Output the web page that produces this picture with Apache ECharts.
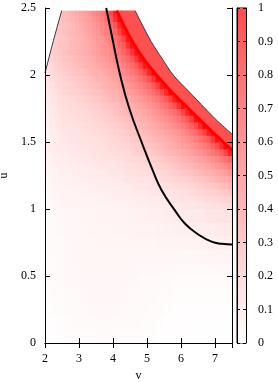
<!DOCTYPE html>
<html>
<head>
<meta charset="utf-8">
<script src="https://cdn.jsdelivr.net/npm/echarts@6/dist/echarts.min.js"></script>
<style>
  html, body { margin: 0; padding: 0; background: #fff; }
  #chart { width: 278px; height: 382px; }
</style>
</head>
<body>
<div id="chart"></div>
<script>
// ---------- data ----------
// tick labels
const X_TICKS = [2, 3, 4, 5, 6, 7];
const Y_TICKS = [0, 0.5, 1, 1.5, 2, 2.5];
const CB_TICKS = [0, 0.1, 0.2, 0.3, 0.4, 0.5, 0.6, 0.7, 0.8, 0.9, 1];

// fine cells (u >= 1): column centres (v) and row centres (u)
const V_FINE = [2.0625,2.1875,2.3125,2.4375,2.5625,2.6875,2.8125,2.9375,3.0625,3.1875,3.3125,3.4375,3.5625,3.6875,3.8125,3.9375,4.0625,4.1875,4.3125,4.4375,4.5625,4.6875,4.8125,4.9375,5.0625,5.1875,5.3125,5.4375,5.5625,5.6875,5.8125,5.9375,6.0625,6.1875,6.3125,6.4375,6.5625,6.6875,6.8125,6.9375,7.0625,7.1875,7.3125,7.4375];
const U_FINE = [1.025,1.075,1.125,1.175,1.225,1.275,1.325,1.375,1.425,1.475,1.525,1.575,1.625,1.675,1.725,1.775,1.825,1.875,1.925,1.975,2.025,2.075,2.125,2.175,2.225,2.275,2.325,2.375,2.425,2.475];
// values, bottom row first (rows end where the computed region ends)
const FINE_ROWS = [
[.03,.041,.047,.054,.055,.057,.058,.059,.06,.062,.063,.065,.066,.068,.069,.071,.073,.075,.077,.079,.082,.085,.088,.092,.096,.10,.10,.105,.11,.115,.12,.125,.13,.14,.145,.15,.155,.16,.165,.175,.18,.19,.20,.21],
[.036,.047,.053,.06,.061,.062,.063,.065,.066,.068,.07,.071,.073,.075,.077,.08,.082,.085,.088,.092,.096,.10,.10,.105,.11,.115,.12,.13,.135,.14,.145,.15,.155,.16,.165,.175,.18,.19,.20,.21,.22,.23,.245,.26],
[.04,.052,.058,.065,.066,.068,.069,.071,.073,.075,.077,.079,.082,.085,.088,.092,.096,.10,.10,.105,.11,.115,.12,.125,.13,.14,.145,.15,.155,.16,.165,.175,.18,.19,.20,.21,.22,.23,.245,.26,.28,.295,.315,.335],
[.045,.057,.063,.07,.072,.074,.076,.078,.08,.083,.086,.09,.095,.10,.10,.105,.11,.11,.115,.125,.13,.135,.14,.145,.15,.16,.16,.17,.175,.185,.19,.20,.21,.22,.235,.25,.265,.285,.30,.325,.345,.365,.385,.42],
[.05,.06,.07,.076,.078,.08,.083,.086,.09,.095,.10,.10,.105,.11,.11,.115,.125,.13,.135,.14,.145,.15,.16,.165,.17,.18,.185,.195,.205,.215,.225,.24,.255,.27,.29,.31,.33,.35,.37,.39,.42,.44,.46,.49],
[.055,.07,.075,.083,.086,.09,.095,.10,.10,.105,.11,.11,.115,.125,.13,.135,.14,.145,.15,.16,.165,.17,.18,.185,.195,.205,.215,.225,.235,.25,.27,.285,.305,.325,.345,.365,.39,.42,.435,.46,.48,.52,.55,.59],
[.065,.075,.085,.095,.095,.10,.105,.11,.11,.115,.12,.13,.135,.14,.145,.15,.155,.16,.17,.175,.185,.19,.20,.21,.22,.23,.25,.265,.28,.30,.32,.34,.36,.38,.405,.43,.455,.47,.505,.54,.575,.61,.65,.71],
[.07,.085,.095,.10,.105,.11,.115,.12,.125,.13,.135,.145,.15,.155,.16,.165,.17,.18,.19,.20,.205,.22,.225,.24,.255,.275,.29,.31,.33,.35,.37,.395,.42,.445,.465,.495,.525,.56,.595,.635,.68,.74,.795,.875],
[.08,.095,.105,.11,.115,.12,.13,.135,.14,.145,.15,.155,.16,.17,.175,.185,.19,.20,.21,.22,.23,.245,.26,.28,.30,.32,.34,.36,.38,.405,.43,.45,.47,.50,.535,.57,.61,.65,.70,.76,.815,.90,1.03,1.25],
[.085,.10,.11,.12,.125,.13,.135,.145,.15,.155,.16,.165,.175,.18,.19,.20,.21,.22,.23,.245,.26,.28,.295,.315,.335,.355,.375,.40,.42,.445,.465,.495,.53,.565,.60,.64,.685,.745,.80,.885,.99,1.19,1.39,1],
[.065,.09,.105,.12,.135,.14,.145,.15,.16,.165,.17,.18,.185,.195,.205,.215,.225,.24,.255,.27,.29,.31,.33,.35,.37,.39,.42,.44,.46,.49,.52,.555,.59,.625,.67,.73,.78,.855,.95,1.12,1.33,1.2,1,1],
[.07,.10,.115,.13,.145,.15,.155,.16,.17,.175,.185,.19,.20,.21,.22,.23,.25,.265,.28,.30,.32,.34,.36,.38,.405,.43,.455,.47,.505,.54,.575,.61,.65,.71,.76,.83,.92,1.06,1.26,1.38,1,1,1],
[.08,.11,.125,.14,.155,.16,.165,.175,.18,.19,.20,.21,.22,.23,.245,.26,.275,.295,.315,.335,.355,.375,.40,.425,.445,.465,.495,.53,.565,.60,.64,.69,.745,.805,.885,1.0,1.19,1.40,1,1,1],
[.09,.115,.13,.15,.165,.17,.18,.185,.195,.205,.215,.225,.235,.25,.27,.285,.305,.325,.345,.365,.39,.42,.435,.46,.48,.52,.55,.59,.625,.67,.725,.78,.855,.95,1.10,1.33,1.38,1,1],
[.10,.125,.14,.16,.175,.185,.19,.20,.21,.22,.23,.245,.26,.28,.30,.32,.34,.36,.38,.405,.43,.45,.47,.50,.535,.57,.61,.65,.70,.76,.815,.90,1.03,1.25,1.4,1,1,1],
[.11,.135,.15,.17,.19,.20,.205,.215,.225,.24,.255,.27,.29,.31,.33,.35,.37,.39,.42,.44,.46,.49,.52,.555,.59,.63,.675,.735,.79,.87,.97,1.15,1.36,1,1,1],
[.12,.15,.165,.18,.20,.215,.225,.235,.25,.265,.285,.30,.32,.345,.365,.385,.415,.435,.455,.475,.51,.545,.58,.615,.655,.715,.765,.835,.925,1.07,1.28,1.38,1,1,1],
[.13,.16,.18,.20,.22,.23,.245,.26,.28,.295,.315,.335,.355,.375,.40,.425,.445,.465,.495,.53,.565,.60,.64,.69,.745,.805,.885,1.0,1.19,1.40,1,1,1],
[.14,.17,.20,.22,.235,.25,.265,.285,.30,.325,.345,.365,.385,.42,.435,.455,.475,.51,.545,.58,.615,.66,.715,.77,.835,.93,1.07,1.30,1.35,1,1,1],
[.16,.19,.21,.23,.255,.27,.29,.31,.33,.35,.37,.39,.42,.44,.46,.49,.52,.555,.59,.63,.675,.735,.79,.87,.97,1.15,1.36,1,1,1,1],
[.17,.20,.23,.25,.28,.30,.32,.34,.355,.38,.40,.43,.45,.47,.50,.535,.57,.61,.645,.70,.755,.815,.895,1.03,1.23,1.38,1,1,1,1],
[.18,.22,.25,.28,.30,.325,.345,.365,.385,.42,.435,.455,.475,.51,.545,.58,.615,.66,.715,.77,.835,.93,1.07,1.30,1.35,1,1,1,1],
[.21,.24,.27,.30,.33,.35,.37,.39,.42,.44,.46,.48,.52,.55,.59,.625,.67,.73,.78,.855,.95,1.12,1.33,1.3,1,1,1,1],
[.22,.26,.29,.32,.35,.37,.39,.42,.44,.46,.48,.52,.55,.59,.625,.67,.73,.79,.855,.96,1.12,1.33,1.3,1,1,1,1],
[.26,.28,.30,.32,.34,.36,.39,.41,.43,.46,.49,.52,.56,.60,.64,.70,.75,.84,.93,1.14,1.33,1.3,1,1,1,1],
[.25,.27,.29,.31,.33,.36,.38,.40,.42,.46,.49,.53,.56,.61,.67,.72,.80,.89,1.06,1.30,1.3,1,1,1,1],
[.27,.29,.31,.33,.36,.38,.40,.42,.45,.49,.52,.56,.60,.66,.71,.78,.87,1.05,1.27,1.3,1,1,1,1],
[.26,.28,.30,.33,.35,.37,.39,.43,.46,.50,.53,.57,.63,.68,.74,.83,.96,1.2,1.38,1,1,1,1],
[.27,.30,.32,.35,.37,.39,.42,.45,.49,.52,.56,.62,.67,.73,.81,.94,1.15,1.35,1,1,1,1],
[.29,.31,.34,.36,.38,.40,.44,.47,.51,.55,.59,.65,.70,.77,.82,1.02,1.25,1,1,1,1,1]
];

// coarse cells (u < 1)
const V_COARSE = [2.125,2.375,2.625,2.875,3.125,3.375,3.625,3.875,4.125,4.375,4.625,4.875,5.125,5.375,5.625,5.875,6.125,6.375,6.625,6.875,7.125,7.375];
const U_COARSE = [0.05,0.15,0.25,0.35,0.45,0.55,0.65,0.75,0.85,0.95];
const COARSE_ROWS = [
[.012,.014,.017,.02,.023,.025,.026,.026,.025,.023,.021,.018,.015,.013,.011,.009,.007,.006,.005,.005,.005,.005],
[.014,.017,.021,.026,.03,.033,.034,.034,.033,.03,.027,.023,.02,.016,.013,.011,.009,.008,.007,.007,.007,.007],
[.016,.02,.026,.032,.036,.039,.04,.04,.039,.036,.032,.028,.024,.02,.017,.014,.012,.011,.01,.01,.01,.01],
[.018,.024,.03,.036,.04,.043,.044,.044,.043,.04,.036,.032,.028,.024,.021,.019,.017,.016,.015,.015,.015,.015],
[.02,.027,.033,.039,.043,.046,.047,.047,.046,.043,.04,.036,.033,.03,.027,.025,.024,.023,.023,.023,.023,.023],
[.022,.03,.036,.042,.046,.048,.049,.05,.049,.047,.045,.042,.04,.038,.036,.035,.034,.034,.035,.036,.037,.038],
[.024,.032,.038,.044,.048,.05,.051,.052,.052,.051,.05,.049,.048,.048,.048,.048,.05,.052,.054,.056,.058,.062],
[.026,.034,.04,.046,.05,.052,.054,.055,.055,.056,.056,.057,.058,.06,.062,.064,.067,.07,.074,.078,.084,.09],
[.028,.037,.043,.048,.052,.055,.057,.058,.06,.062,.064,.066,.07,.074,.078,.082,.088,.094,.10,.105,.115,.125],
[.03,.04,.045,.05,.055,.058,.06,.062,.065,.068,.072,.076,.082,.088,.095,.10,.11,.12,.13,.14,.15,.165]
];

// curves (v, u)
const LEFT_V = [2.00, 2.25, 2.49];
const LEFT_U = [2.015, 2.26, 2.48];
const MID_V = [3.80, 4.00, 4.21, 4.48, 4.84, 5.18, 5.43, 5.82, 6.12, 6.51, 6.90, 7.20, 7.50];
const MID_U = [2.50, 2.25, 2.00, 1.75, 1.50, 1.28, 1.14, 0.99, 0.89, 0.81, 0.756, 0.74, 0.735];
const EDGE_V = [4.65, 4.85, 5.12, 5.45, 5.77, 6.22, 6.71, 7.10, 7.50];
const EDGE_U = [2.48, 2.38, 2.25, 2.12, 2.00, 1.88, 1.75, 1.65, 1.56];
const RIDGE_V = [4.11, 4.30, 4.57, 4.90, 5.28, 5.70, 6.22, 6.70, 7.20, 7.50];
const RIDGE_U = [2.48, 2.38, 2.25, 2.12, 2.00, 1.88, 1.75, 1.63, 1.51, 1.44];
const PLATEAU_VALUE = 0.98;
const U_TOP = 2.48;      // top of the computed region
const CB_MAX_VALUE = 1.43; // palette reaches pure red here

// ---------- build ----------
const zip = (a, b) => a.map((x, i) => [x, b[i]]);
function cells(vs, us, rows) {
  const out = [];
  rows.forEach((row, j) => row.forEach((val, i) => { if (val > 0) out.push([vs[i], us[j], val]); }));
  return out;
}
function cellRenderer(hw, hh) {
  return function (params, api) {
    const v = api.value(0), u = api.value(1);
    const p0 = api.coord([v - hw, Math.min(u + hh, U_TOP)]);
    const p1 = api.coord([v + hw, u - hh]);
    return {
      type: 'rect',
      shape: { x: p0[0], y: p0[1], width: p1[0] - p0[0] + 0.6, height: p1[1] - p0[1] + 0.6 },
      style: { fill: api.visual('color') }
    };
  };
}
const SERIF = 'Liberation Serif';
const FONT = { fontFamily: SERIF, fontSize: 12, color: '#000' };
const axisLine = { show: true, lineStyle: { color: '#000', width: 1 } };

const chart = echarts.init(document.getElementById('chart'), null, { renderer: 'canvas' });
chart.setOption({
  animation: false,
  backgroundColor: '#fff',
  textStyle: { fontFamily: SERIF },
  grid: [
    { left: 45, top: 8, width: 187, height: 335, show: false, containLabel: false, outerBoundsMode: 'none' },
    { left: 237, top: 8, width: 9, height: 335, show: true, borderColor: '#000', borderWidth: 1, containLabel: false, outerBoundsMode: 'none' }
  ],
  xAxis: [
    { gridIndex: 0, type: 'value', min: 2, max: 7.5, interval: 1, position: 'bottom', z: 10,
      axisLine, axisTick: { inside: true, length: 5, lineStyle: { color: '#000' } },
      axisLabel: Object.assign({ margin: 10, showMaxLabel: false }, FONT),
      splitLine: { show: false },
      name: 'v', nameLocation: 'middle', nameGap: 25, nameTextStyle: FONT },
    { gridIndex: 0, type: 'value', min: 2, max: 7.5, interval: 1, position: 'top', z: 10,
      axisLine, axisTick: { inside: true, length: 5, lineStyle: { color: '#000' } },
      axisLabel: { show: false }, splitLine: { show: false } },
    { gridIndex: 1, type: 'value', min: 0, max: 1, show: false }
  ],
  yAxis: [
    { gridIndex: 0, type: 'value', min: 0, max: 2.5, interval: 0.5, position: 'left', z: 10,
      axisLine, axisTick: { inside: true, length: 5, lineStyle: { color: '#000' } },
      axisLabel: Object.assign({ margin: 9 }, FONT),
      splitLine: { show: false },
      name: 'u', nameLocation: 'middle', nameGap: 34, nameRotate: 90, nameTextStyle: FONT },
    { gridIndex: 0, type: 'value', min: 0, max: 2.5, interval: 0.5, position: 'right', z: 10,
      axisLine, axisTick: { inside: true, length: 5, lineStyle: { color: '#000' } },
      axisLabel: { show: false }, splitLine: { show: false } },
    { gridIndex: 1, type: 'value', min: 0, max: 1, interval: 0.1, position: 'left', z: 10,
      axisLine, axisTick: { inside: true, length: 3, lineStyle: { color: '#000' } },
      axisLabel: { show: false }, splitLine: { show: false } },
    { gridIndex: 1, type: 'value', min: 0, max: 1, interval: 0.1, position: 'right', z: 10,
      axisLine, axisTick: { inside: true, length: 3, lineStyle: { color: '#000' } },
      axisLabel: Object.assign({ margin: 12, formatter: v => String(+v.toFixed(1)) }, FONT),
      splitLine: { show: false } }
  ],
  visualMap: {
    type: 'continuous', show: false, dimension: 2, min: 0, max: CB_MAX_VALUE,
    seriesIndex: [0, 1], inRange: { color: ['#ffffff', '#ff0000'] }
  },
  series: [
    { type: 'custom', clip: true, data: cells(V_FINE, U_FINE, FINE_ROWS), renderItem: cellRenderer(0.0625, 0.025) },
    { type: 'custom', clip: true, data: cells(V_COARSE, U_COARSE, COARSE_ROWS), renderItem: cellRenderer(0.125, 0.05) },
    { type: 'custom', clip: true, data: [[0, 0, PLATEAU_VALUE]],
      renderItem: function (params, api) {
        const pts = zip(RIDGE_V, RIDGE_U).concat(zip(EDGE_V, EDGE_U).reverse()).map(p => api.coord(p));
        const g = Math.round(255 * (1 - PLATEAU_VALUE / CB_MAX_VALUE));
        return { type: 'polygon', shape: { points: pts, smooth: 0 }, style: { fill: 'rgb(255,' + g + ',' + g + ')' } };
      } },
    { type: 'line', data: zip(RIDGE_V, RIDGE_U), symbol: 'none', smooth: 0.3,
      lineStyle: { color: '#ff0000', width: 3 }, silent: true },
    { type: 'line', data: zip(EDGE_V, EDGE_U), symbol: 'none', smooth: 0.3,
      lineStyle: { color: '#3a3a3a', width: 1 }, areaStyle: { color: '#ffffff', opacity: 1, origin: 'end' }, silent: true },
    { type: 'line', data: zip(LEFT_V, LEFT_U), symbol: 'none',
      lineStyle: { color: '#3a3a3a', width: 1 }, areaStyle: { color: '#ffffff', opacity: 1, origin: 'end' }, silent: true },
    { type: 'line', data: zip(MID_V, MID_U), symbol: 'none', smooth: 0.5,
      lineStyle: { color: '#000', width: 2 }, silent: true },
    { type: 'custom', xAxisIndex: 2, yAxisIndex: 2, data: [[0, 0]],
      renderItem: function (params, api) {
        const p0 = api.coord([0, 1]), p1 = api.coord([1, 0]);
        return { type: 'rect', shape: { x: p0[0], y: p0[1], width: p1[0] - p0[0], height: p1[1] - p0[1] },
          style: { fill: new echarts.graphic.LinearGradient(0, 0, 0, 1, [
            { offset: 0, color: '#ff4d4d' }, { offset: 1, color: '#ffffff' }]) } };
      } }
  ]
});
</script>
</body>
</html>
